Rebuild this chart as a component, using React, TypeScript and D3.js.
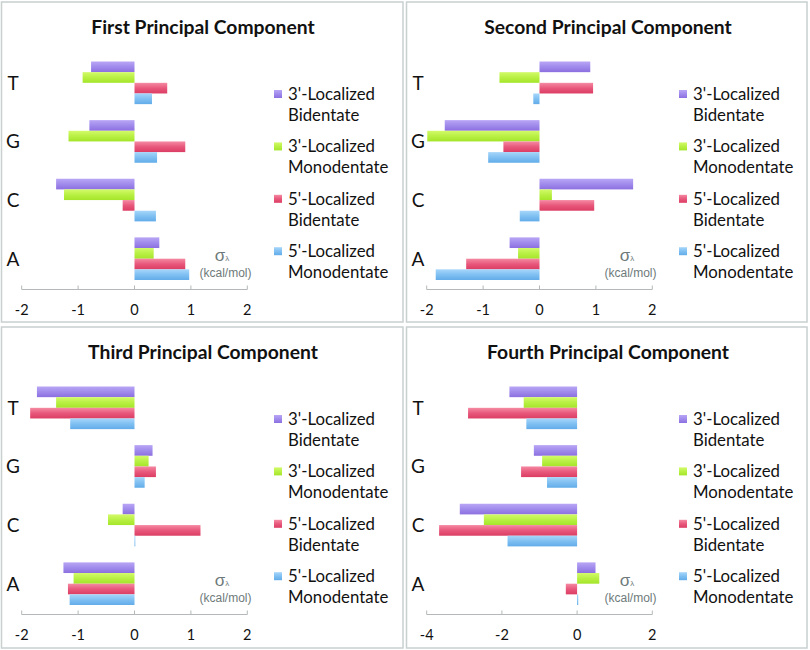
import React from "react";
import * as d3 from "d3";

const categories = ["T", "G", "C", "A"];
const seriesNames = [
  ["3'-Localized", "Bidentate"],
  ["3'-Localized", "Monodentate"],
  ["5'-Localized", "Bidentate"],
  ["5'-Localized", "Monodentate"],
];
const seriesKeys = ["bid3", "mono3", "bid5", "mono5"];
const titles = [
  "First Principal Component",
  "Second Principal Component",
  "Third Principal Component",
  "Fourth Principal Component",
];

// values per series, in category order T, G, C, A
const pc1Bid3 = [-0.77, -0.8, -1.39, 0.44];
const pc1Mono3 = [-0.92, -1.17, -1.25, 0.34];
const pc1Bid5 = [0.58, 0.9, -0.21, 0.9];
const pc1Mono5 = [0.31, 0.4, 0.38, 0.97];

const pc2Bid3 = [0.9, -1.68, 1.66, -0.53];
const pc2Mono3 = [-0.71, -1.99, 0.22, -0.38];
const pc2Bid5 = [0.95, -0.64, 0.97, -1.3];
const pc2Mono5 = [-0.11, -0.91, -0.35, -1.84];

const pc3Bid3 = [-1.73, 0.32, -0.21, -1.26];
const pc3Mono3 = [-1.39, 0.25, -0.47, -1.08];
const pc3Bid5 = [-1.85, 0.38, 1.17, -1.18];
const pc3Mono5 = [-1.14, 0.18, 0.01, -1.15];

const pc4Bid3 = [-1.8, -1.15, -3.12, 0.49];
const pc4Mono3 = [-1.42, -0.93, -2.48, 0.59];
const pc4Bid5 = [-2.9, -1.49, -3.67, -0.3];
const pc4Mono5 = [-1.35, -0.8, -1.85, 0.03];

const domains: [number, number][] = [[-2, 2], [-2, 2], [-2, 2], [-4, 2]];
const tickLabels = [
  ["-2", "-1", "0", "1", "2"],
  ["-2", "-1", "0", "1", "2"],
  ["-2", "-1", "0", "1", "2"],
  ["-4", "-2", "0", "2"],
];

const panelValues = [
  [pc1Bid3, pc1Mono3, pc1Bid5, pc1Mono5],
  [pc2Bid3, pc2Mono3, pc2Bid5, pc2Mono5],
  [pc3Bid3, pc3Mono3, pc3Bid5, pc3Mono5],
  [pc4Bid3, pc4Mono3, pc4Bid5, pc4Mono5],
];

const colors = [
  { top: "#b9a6f5", bottom: "#8c6fe0", mid: "#a08bec" },
  { top: "#d2fa6a", bottom: "#a4e52a", mid: "#b9f044" },
  { top: "#f58aa3", bottom: "#dc3d63", mid: "#e8587c" },
  { top: "#a6d6fa", bottom: "#62ace9", mid: "#80c0f2" },
];

const panelPos = [
  { x: 0, y: 0 },
  { x: 405, y: 0 },
  { x: 0, y: 325 },
  { x: 405, y: 325 },
];

const FONT = "Lato, 'Open Sans', sans-serif";

function Panel({ idx }: { idx: number }) {
  const pos = panelPos[idx];
  const dom = domains[idx];
  const x = d3.scaleLinear().domain(dom).range([21.7, 247.3]);
  const y = d3
    .scaleBand<string>()
    .domain(categories)
    .range([53.5, 288])
    .paddingInner(1.5 / 5.5)
    .paddingOuter(0.75 / 5.5);
  const ys = d3
    .scaleBand<string>()
    .domain(seriesKeys)
    .range([0, y.bandwidth()])
    .padding(0);
  const vals = panelValues[idx];
  const ticks = tickLabels[idx].map((t) => +t);
  const axisY = 289.5;
  const legendY0 = 94;
  const legendStep = 52.4;
  return (
    <g transform={`translate(${pos.x},${pos.y})`}>
      <rect
        x={1.5}
        y={2}
        width={idx % 2 === 0 ? 401.5 : 400.5}
        height={idx < 2 ? 320 : 321}
        fill="#fff"
        stroke="#c8d0d0"
        strokeWidth={1.5}
      />
      <text
        x={203}
        y={33.5}
        textAnchor="middle"
        fontFamily={FONT}
        fontWeight="bold"
        fontSize={19.3}
        fill="#111"
      >
        {titles[idx]}
      </text>
      {categories.map((c) => (
        <text
          key={c}
          x={13}
          y={(y(c) as number) + y.bandwidth() / 2}
          dy="0.36em"
          textAnchor="middle"
          fontFamily={FONT}
          fontSize={19}
          fill="#111"
        >
          {c}
        </text>
      ))}
      {seriesKeys.map((k, si) =>
        categories.map((c, ci) => {
          const v = vals[si][ci];
          const x0 = x(Math.min(0, v));
          const w = Math.max(Math.abs(x(v) - x(0)), 0.8);
          return (
            <rect
              key={k + c}
              x={x0}
              y={(y(c) as number) + (ys(k) as number)}
              width={w}
              height={ys.bandwidth()}
              fill={`url(#grad${si})`}
            />
          );
        })
      )}
      <line x1={x(dom[0])} x2={x(dom[1])} y1={axisY} y2={axisY} stroke="#b4b8b8" strokeWidth={1} />
      {ticks.map((t, i) => (
        <g key={i}>
          <line x1={x(t)} x2={x(t)} y1={axisY - 4} y2={axisY} stroke="#b4b8b8" strokeWidth={1} />
          <text
            x={x(t)}
            y={315}
            textAnchor="middle"
            fontFamily={FONT}
            fontSize={14.5}
            fill="#111"
          >
            {tickLabels[idx][i]}
          </text>
        </g>
      ))}
      <text x={222} y={261} textAnchor="middle" fontFamily="'Liberation Sans', Arial, sans-serif" fontSize={17} fill="#6e7a7a">
        σ<tspan fontSize={8} dy={0}>λ</tspan>
      </text>
      <text x={225.5} y={276.5} textAnchor="middle" fontFamily="'Liberation Sans', Arial, sans-serif" fontSize={12} fill="#6e7a7a">
        (kcal/mol)
      </text>
      {seriesNames.map((nm, si) => {
        const cy = legendY0 + si * legendStep;
        return (
          <g key={si}>
            <rect x={274} y={cy - 4} width={8} height={8} fill={`url(#grad${si})`} />
            <text x={288} y={cy} dy="0.36em" fontFamily={FONT} fontSize={16.8} fill="#111">
              {nm[0]}
            </text>
            <text x={288} y={cy + 21} dy="0.36em" fontFamily={FONT} fontSize={16.8} fill="#111">
              {nm[1]}
            </text>
          </g>
        );
      })}
    </g>
  );
}

export default function App() {
  return (
    <svg
      width={810}
      height={650}
      style={{ position: "absolute", left: 0, top: 0, background: "#fff" }}
    >
      <defs>
        {colors.map((c, i) => (
          <linearGradient key={i} id={`grad${i}`} x1="0" y1="0" x2="0" y2="1">
            <stop offset="0" stopColor={c.top} />
            <stop offset="0.5" stopColor={c.mid} />
            <stop offset="1" stopColor={c.bottom} />
          </linearGradient>
        ))}
      </defs>
      <rect x={0} y={0} width={810} height={650} fill="#fff" />
      {[0, 1, 2, 3].map((i) => (
        <Panel key={i} idx={i} />
      ))}
    </svg>
  );
}
